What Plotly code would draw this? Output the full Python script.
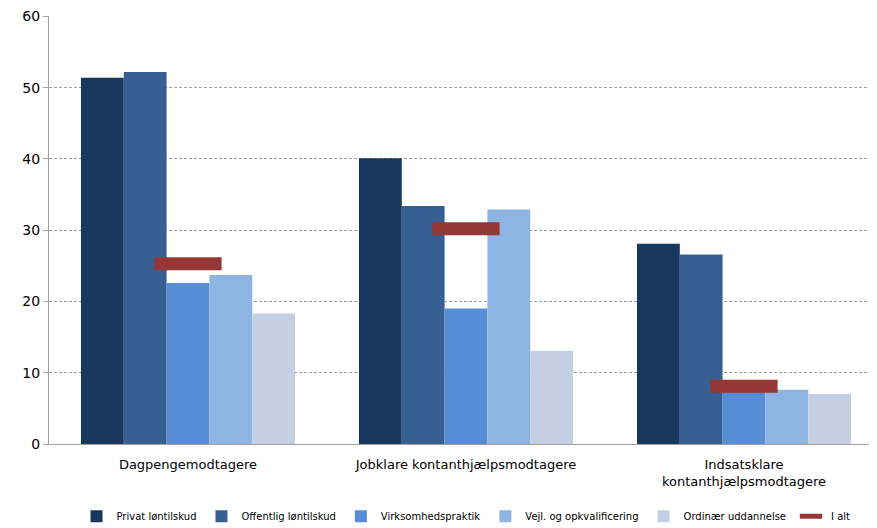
import plotly.graph_objects as go

kategorier = ["Dagpengemodtagere", "Jobklare kontanthjælpsmodtagere", "Indsatsklare<br>kontanthjælpsmodtagere"]
serier = ["Privat løntilskud", "Offentlig løntilskud", "Virksomhedspraktik", "Vejl. og opkvalificering", "Ordinær uddannelse"]
privat = [51.4, 40.1, 28.1]
offentlig = [52.2, 33.4, 26.6]
virksomhed = [22.6, 19.0, 7.5]
vejl = [23.7, 32.9, 7.6]
ordinaer = [18.3, 13.1, 7.0]
i_alt = [25.3, 30.2, 8.1]
farver = ["#17375E", "#366092", "#558ED5", "#8EB4E3", "#C5CFE3"]

fig = go.Figure()
for navn, vals, farve in zip(serier, [privat, offentlig, virksomhed, vejl, ordinaer], farver):
    fig.add_trace(go.Bar(name=navn, x=kategorier, y=vals, marker_color=farve,
                         marker_line_width=0))

fig.add_trace(go.Scatter(name="I alt", x=kategorier, y=i_alt, mode="markers",
                         marker=dict(symbol="line-ew", size=48,
                                     line=dict(width=13, color="#953735"))))

fig.update_layout(
    width=877, height=528,
    margin=dict(l=41, r=2, t=8, b=92),
    plot_bgcolor="white", paper_bgcolor="white",
    font=dict(family="DejaVu Sans", size=13, color="black"),
    barmode="group", bargap=0.23, bargroupgap=0,
    showlegend=True,
    legend=dict(orientation="h", x=0.5, xanchor="center", yref="container", y=0.01,
                yanchor="bottom", font=dict(size=10), itemwidth=30, traceorder="normal"),
    xaxis=dict(showline=True, linecolor="#A0A0A0", ticks="", range=[-0.5, 2.5],
               tickfont=dict(size=13), automargin=False, ticklabelstandoff=8),
    yaxis=dict(range=[0, 60.05], dtick=10, showgrid=True, gridcolor="#A0A0A0",
               griddash="3px,2px", showline=True, linecolor="#A0A0A0", automargin=False,
               ticks="outside", ticklen=5, tickcolor="#A0A0A0", tickfont=dict(size=14)),
)

fig.write_html("out.html")
